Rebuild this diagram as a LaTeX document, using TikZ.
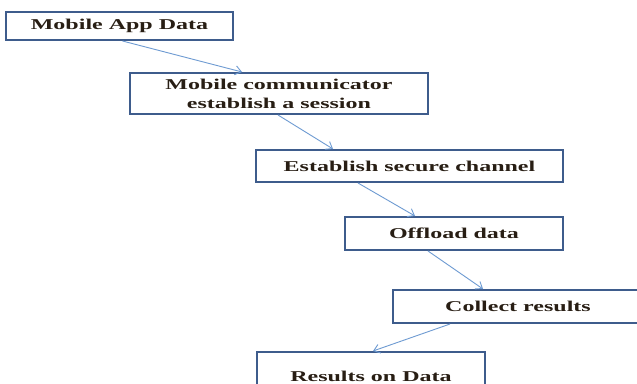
\documentclass[tikz,border=0pt]{standalone}
\usepackage{fontspec}
\setmainfont{Liberation Serif}[FakeStretch=1.6]
\usetikzlibrary{arrows.meta}
\definecolor{boxline}{RGB}{62,92,140}
\definecolor{arrowline}{RGB}{110,155,210}
\definecolor{labeltext}{RGB}{40,30,20}
\tikzset{
  stepbox/.style={draw=boxline, line width=2pt, fill=white, inner sep=0pt,
    font=\fontsize{15}{19}\selectfont\bfseries, text=labeltext, align=center},
  flow/.style={draw=arrowline, line width=0.9pt, -{Straight Barb[length=6pt,width=9pt]}}
}
\begin{document}
\begin{tikzpicture}[x=1pt,y=-1pt]
  \clip (0,0) rectangle (637,383);
  \fill[white] (0,0) rectangle (637,383);
  \node[stepbox, minimum width=227pt, minimum height=28pt] (app) at (119.5,26) {Mobile App Data};
  \node[stepbox, minimum width=298pt, minimum height=41pt] (comm) at (279,93.5) {Mobile communicator\\establish a session};
  \node[stepbox, minimum width=307pt, minimum height=32pt] (chan) at (409.5,166) {Establish secure channel};
  \node[stepbox, minimum width=218pt, minimum height=33pt] (off) at (454,233.5) {Offload data};
  \node[stepbox, minimum width=250pt, minimum height=33pt] (coll) at (518,306.5) {Collect results};
  \node[stepbox, minimum width=228pt, minimum height=48pt] (res) at (371,376) {Results on Data};
  \draw[flow] (app.south) ++(3,0) coordinate (a1) (a1) -- (comm.north -| 242,0);
  \draw[flow] (comm.south -| 278,0) -- (chan.north -| 333,0);
  \draw[flow] (chan.south -| 358,0) -- (off.north -| 415,0);
  \draw[flow] (off.south -| 428,0) -- (coll.north -| 483,0);
  \draw[flow] (coll.south -| 450,0) -- (res.north -| 373,0);
\end{tikzpicture}
\end{document}
